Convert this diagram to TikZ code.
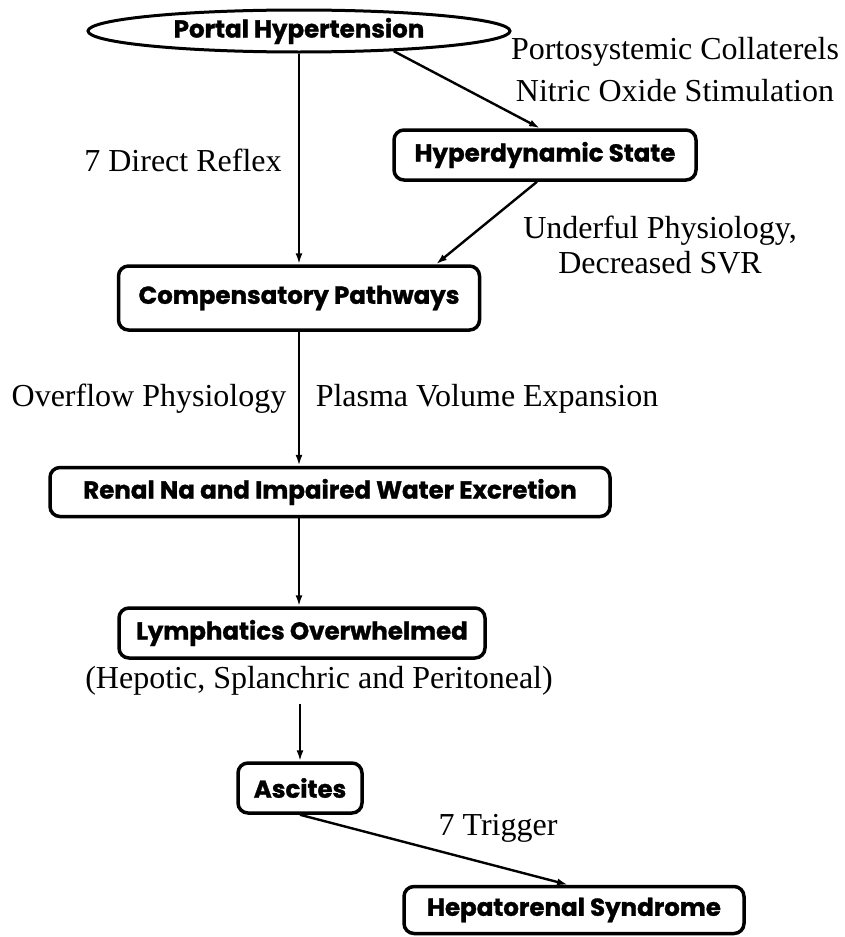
\documentclass[tikz,border=0pt]{standalone}
\usepackage{fontspec}
\setmainfont{Liberation Serif}
\newfontfamily\boxfont{Poppins}[BoldFeatures={FakeBold=1.2}]
\usetikzlibrary{arrows.meta,shapes.geometric}
\begin{document}
\begin{tikzpicture}[x=1pt,y=-1pt,
  box/.style={draw, line width=3.5pt, rounded corners=10pt, fill=white,
    inner sep=0pt, font=\boxfont\bfseries\fontsize{24.5}{28}\selectfont},
  oval/.style={draw, ellipse, line width=3pt, inner sep=0pt, fill=white,
    font=\boxfont\bfseries\fontsize{24.5}{28}\selectfont},
  note/.style={inner sep=0pt, align=center,
    font=\fontsize{32}{42}\selectfont},
  link/.style={line width=2.4pt, -{Latex[length=11pt,width=7pt]}}]
\useasboundingbox (0,0) rectangle (844,937);

% main chain
\node[oval, minimum width=422pt, minimum height=42pt] (ph) at (299,31) {Portal Hypertension};
\node[box, minimum width=302pt, minimum height=50pt] (hyp) at (545,155) {Hyperdynamic State};
\node[box, minimum width=361pt, minimum height=64pt] (comp) at (299,298) {Compensatory Pathways};
\node[box, minimum width=560pt, minimum height=49pt] (renal) at (330,492) {Renal Na and Impaired Water Excretion};
\node[box, minimum width=366pt, minimum height=50pt] (lymph) at (302,633) {Lymphatics Overwhelmed};
\node[note] (hep) at (319,681) {(Hepotic, Splanchric and Peritoneal)};
\node[box, minimum width=124pt, minimum height=50pt] (asc) at (300,788) {Ascites};
\node[box, minimum width=340pt, minimum height=47pt] (hrs) at (574,910) {Hepatorenal Syndrome};

% edge labels
\node[note] (lbl1) at (675,70) {Portosystemic Collaterels\\Nitric Oxide Stimulation};
\node[note] (lbl2) at (183,160) {7 Direct Reflex};
\node[note, font=\fontsize{32}{35}\selectfont] (lbl3) at (660,245) {Underful Physiology,\\Decreased SVR};
\node[note] (lbl4) at (149,399) {Overflow Physiology};
\node[note] (lbl5) at (487,399) {Plasma Volume Expansion};
\node[note] (lbl6) at (498,828) {7 Trigger};

% connectors
\draw[link] (ph.south) -- (comp.north);
\draw[link] (ph.-12) -- ([xshift=-5pt]hyp.north);
\draw[link] ([xshift=-8pt]hyp.south) -- ([xshift=137pt]comp.north);
\draw[link] (comp.south) -- (comp.south |- renal.north);
\draw[link] (comp.south |- renal.south) -- (comp.south |- lymph.north);
\path (asc.north |- hep.south) ++(0,8) coordinate (hepbelow);
\draw[link] (hepbelow) -- (asc.north);
\draw[link] (asc.south) -- ([xshift=-6pt]hrs.north);
\end{tikzpicture}
\end{document}
